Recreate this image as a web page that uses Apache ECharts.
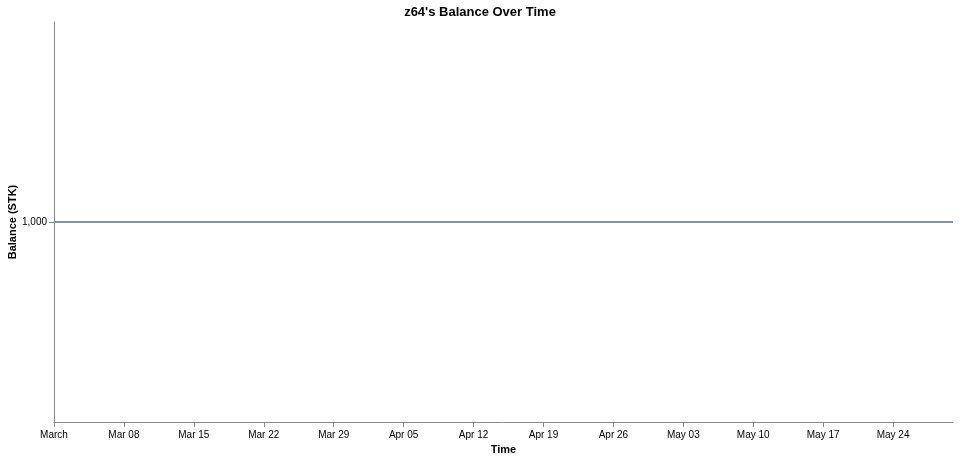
<!DOCTYPE html>
<html><head><meta charset="utf-8">
<script src="https://cdn.jsdelivr.net/npm/echarts@6/dist/echarts.min.js"></script>
<style>html,body{margin:0;padding:0;background:#fff}#c{width:960px;height:459px}</style>
</head><body><div id="c"></div>
<script>
const dates = ['2024-03-01','2024-03-15','2024-04-01','2024-04-15','2024-05-01','2024-05-15','2024-05-30'];
const balances = [1000,1000,1000,1000,1000,1000,1000];
const tickLabels = ['March','Mar 08','Mar 15','Mar 22','Mar 29','Apr 05','Apr 12','Apr 19','Apr 26','May 03','May 10','May 17','May 24'];
const yTicks = [1000];
const yTickLabels = ['1,000'];

const DAY = 86400000;
const t0 = Date.parse(dates[0] + 'T00:00:00Z');
const dayOf = d => Math.round((Date.parse(d + 'T00:00:00Z') - t0) / DAY);
const yLabelMap = {};
yTicks.forEach((v,i)=>{yLabelMap[v]=yTickLabels[i];});

const chart = echarts.init(document.getElementById('c'), null, {renderer:'canvas'});
const font = 'Liberation Sans, Arial, sans-serif';
chart.setOption({
  animation: false,
  textStyle: {fontFamily: font},
  title: {text: "z64's Balance Over Time", left: 'center', top: 1,
    textStyle: {fontSize: 13, fontWeight: 'bold', color: '#000', fontFamily: font}},
  grid: {left: 54, right: 7, top: 22, bottom: 37, containLabel: false, outerBoundsMode: 'none'},
  xAxis: {
    type: 'value', min: 0, max: dayOf(dates[dates.length-1]), interval: 7,
    name: 'Time', nameLocation: 'middle', nameGap: 22, nameMoveOverlap: false,
    nameTextStyle: {fontSize: 11, fontWeight: 'bold', color: '#000', fontFamily: font},
    axisLine: {lineStyle: {color: '#888', width: 1}},
    axisTick: {show: true, length: 5, lineStyle: {color: '#888'}},
    axisLabel: {fontSize: 10, color: '#000', fontFamily: font, margin: 8, showMaxLabel: false,
      formatter: v => (v % 7 === 0 && tickLabels[v/7] !== undefined) ? tickLabels[v/7] : ''},
    splitLine: {show: false}
  },
  yAxis: {
    type: 'value', min: 900, max: 1100,
    name: 'Balance (STK)', nameLocation: 'middle', nameGap: 36, nameMoveOverlap: false,
    nameTextStyle: {fontSize: 11, fontWeight: 'bold', color: '#000', fontFamily: font},
    axisLine: {show: true, lineStyle: {color: '#888', width: 1}},
    axisTick: {show: true, customValues: yTicks, length: 5, lineStyle: {color: '#888'}},
    axisLabel: {customValues: yTicks, fontSize: 10, color: '#000', fontFamily: font, margin: 7,
      formatter: v => yLabelMap[v] || ''},
    splitLine: {show: false}
  },
  series: [{
    type: 'line', data: dates.map((d,i)=>[dayOf(d), balances[i]]),
    showSymbol: false, symbol: 'none',
    lineStyle: {color: '#8891a0', width: 2}
  }]
});
</script></body></html>
